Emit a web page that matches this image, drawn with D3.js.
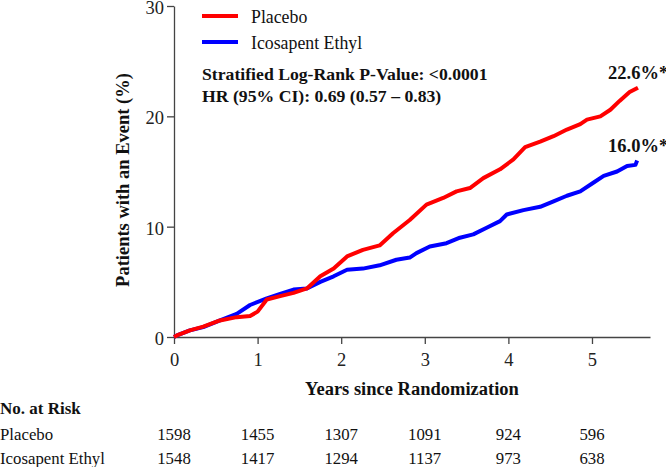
<!DOCTYPE html>
<html><head><meta charset="utf-8">
<script src="https://cdn.jsdelivr.net/npm/d3@7"></script>
<style>
html,body{margin:0;padding:0;background:#fff;}
svg{display:block;font-family:"Liberation Serif","Times New Roman",serif;}
</style></head>
<body><svg id="c" width="666" height="467"></svg>
<script>
// Data (years, cumulative event %)
const placeboYears = [0,0.05,0.19,0.35,0.55,0.75,0.91,1.0,1.11,1.27,1.43,1.59,1.75,1.91,2.07,2.26,2.46,2.62,2.82,3.02,3.22,3.38,3.54,3.7,3.9,4.06,4.2,4.38,4.54,4.7,4.86,4.94,5.1,5.22,5.33,5.45,5.55];
const placeboPct   = [0,0.2,0.6,0.94,1.5,1.8,1.9,2.3,3.4,3.7,4.0,4.4,5.5,6.2,7.3,7.9,8.3,9.4,10.6,12.0,12.6,13.2,13.5,14.4,15.2,16.1,17.2,17.7,18.2,18.8,19.3,19.7,20.0,20.6,21.4,22.2,22.6];
const iceYears = [0,0.05,0.19,0.35,0.55,0.75,0.91,1.11,1.27,1.43,1.59,1.75,1.91,2.07,2.26,2.46,2.66,2.82,2.9,3.06,3.26,3.42,3.58,3.74,3.9,3.98,4.18,4.38,4.54,4.7,4.86,5.02,5.14,5.3,5.42,5.52,5.54];
const icePct   = [0,0.2,0.6,0.9,1.5,2.1,2.9,3.5,3.9,4.3,4.4,5.0,5.5,6.1,6.2,6.5,7.0,7.2,7.6,8.2,8.5,9.0,9.3,9.9,10.5,11.1,11.5,11.8,12.3,12.8,13.2,14.0,14.6,15.0,15.5,15.6,16.0];
const seriesNames = ["Placebo","Icosapent Ethyl"];
const seriesColors = ["#ff0000","#0000ff"];
const xTicks = [0,1,2,3,4,5];
const yTicks = [0,10,20,30];
const riskPlacebo = [1598,1455,1307,1091,924,596];
const riskIce = [1548,1417,1294,1137,973,638];
const endLabels = ["22.6%*","16.0%*"];
const statLines = ["Stratified Log-Rank P-Value: <0.0001","HR (95% CI): 0.69 (0.57 \u2013 0.83)"];

const svg = d3.select("#c");
const x = d3.scaleLinear().domain([0,5.694]).range([174,650]);
const y = d3.scaleLinear().domain([0,30]).range([337,6]);

const axCol = "#444";
// y axis
const ya = svg.append("g").attr("transform","translate(174,0)")
  .call(d3.axisLeft(y).tickValues(yTicks).tickFormat(d3.format("d")).tickSize(7).tickPadding(3).tickSizeOuter(0));
ya.select(".domain").attr("stroke",axCol).attr("stroke-width",1.3);
ya.selectAll(".tick line").attr("stroke",axCol).attr("stroke-width",1.3);
ya.selectAll(".tick text").attr("font-size",18.5).attr("dy","0.4em").attr("fill","#222").attr("font-family","Liberation Serif");
// x axis
const xa = svg.append("g").attr("transform","translate(0,337)")
  .call(d3.axisBottom(x).tickValues(xTicks).tickFormat(d3.format("d")).tickSize(7).tickPadding(0).tickSizeOuter(0));
xa.select(".domain").attr("stroke",axCol).attr("stroke-width",1.3);
xa.selectAll(".tick line").attr("stroke",axCol).attr("stroke-width",1.3);
xa.selectAll(".tick text").attr("font-size",18.5).attr("dy",null).attr("y",29).attr("fill","#222").attr("font-family","Liberation Serif");

// curves
const line = d3.line().x(d=>x(d[0])).y(d=>y(d[1]));
const sets = [d3.zip(placeboYears,placeboPct), d3.zip(iceYears,icePct)];
[1,0].forEach(i=>{
  svg.append("path").datum(sets[i]).attr("d",line).attr("fill","none")
    .attr("stroke",seriesColors[i]).attr("stroke-width",4).attr("stroke-linejoin","round");
});

// legend
seriesNames.forEach((n,i)=>{
  const ly = 16 + i*26;
  svg.append("line").attr("x1",202).attr("x2",238).attr("y1",ly).attr("y2",ly)
    .attr("stroke",seriesColors[i]).attr("stroke-width",4);
  svg.append("text").attr("x",251).attr("y",ly+7).attr("font-size",17.8).attr("fill","#111").text(n);
});
statLines.forEach((t,i)=>{
  svg.append("text").attr("x",202).attr("y",80+i*22).attr("font-size",17.7)
    .attr("font-weight","bold").attr("fill","#111").text(t);
});
// end labels
svg.append("text").attr("x",608).attr("y",79).attr("font-size",18.5).attr("font-weight","bold").attr("fill","#111").text(endLabels[0]);
svg.append("text").attr("x",608).attr("y",152).attr("font-size",18.5).attr("font-weight","bold").attr("fill","#111").text(endLabels[1]);

// axis titles
svg.append("text").attr("transform","translate(129,180) rotate(-90)").attr("text-anchor","middle")
  .attr("font-size",18.5).attr("font-weight","bold").attr("fill","#111").text("Patients with an Event (%)");
svg.append("text").attr("x",412).attr("y",395).attr("text-anchor","middle")
  .attr("font-size",18.5).attr("font-weight","bold").attr("fill","#111").text("Years since Randomization");

// risk table
svg.append("text").attr("x",0).attr("y",414).attr("font-size",17).attr("font-weight","bold").attr("fill","#111").text("No. at Risk");
const rows = [riskPlacebo, riskIce];
rows.forEach((r,i)=>{
  const ry = 440 + i*23.5;
  svg.append("text").attr("x",0).attr("y",ry).attr("font-size",16.8).attr("fill","#111").text(seriesNames[i]);
  r.forEach((v,j)=>{
    svg.append("text").attr("x",x(xTicks[j])).attr("y",ry).attr("text-anchor","middle")
      .attr("font-size",16.8).attr("fill","#111").text(v);
  });
});
</script></body></html>
